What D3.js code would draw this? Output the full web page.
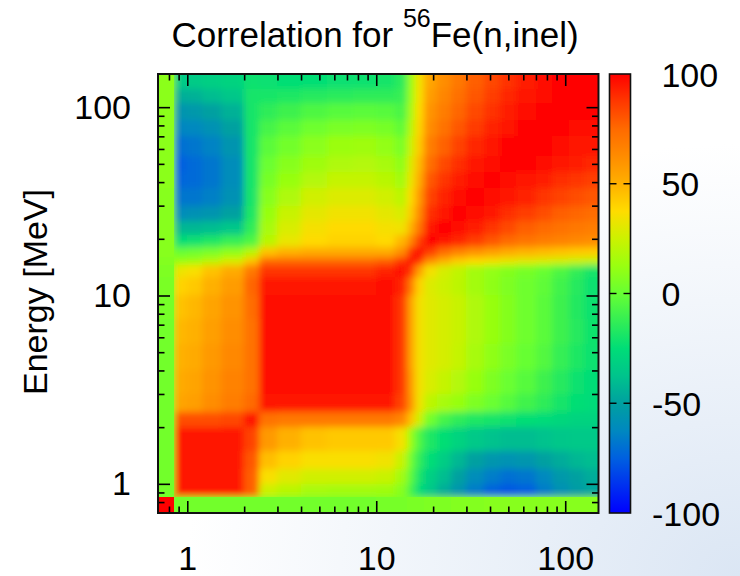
<!DOCTYPE html>
<html><head><meta charset="utf-8">
<script src="https://cdn.jsdelivr.net/npm/d3@7"></script>
<style>
html,body{margin:0;padding:0;background:#fff;}
svg{display:block;}
text{font-family:"Liberation Sans",Arial,Helvetica,sans-serif;fill:#000;}
</style></head><body>
<svg id="chart" width="740" height="576"></svg>
<script>
// ---- data -------------------------------------------------------------
const energyEdges = [0.7,0.85,1.0,1.2,1.5,2.0,2.4,3.0,4.0,5.5,7.5,10,12.5,14.5,16,18,21,25,30,37,45,55,70,85,105,125,150];
// correlation (%) ; row = y-energy bin (ascending), column = x-energy bin (ascending)
const corrRows = [
 [100,3,3,3,3,3,3,3,3,3,3,4,4,5,5,6,6,7,7,8,8,8,8,8,8,8],
 [3,95,95,95,95,78,25,20,16,15,15,14,8,-8,-25,-35,-45,-55,-66,-74,-77,-75,-66,-58,-52,-48],
 [3,95,95,95,95,78,36,30,26,26,26,24,15,-3,-20,-32,-40,-50,-60,-66,-70,-68,-62,-54,-50,-46],
 [3,95,95,95,95,80,46,40,36,36,36,34,24,2,-14,-25,-33,-42,-50,-55,-57,-55,-50,-46,-42,-40],
 [3,96,96,96,96,85,58,50,45,43,43,43,35,12,-6,-18,-24,-30,-35,-38,-40,-40,-38,-36,-35,-35],
 [3,82,82,82,84,97,72,70,70,70,70,70,65,45,25,3,-8,-14,-18,-20,-22,-24,-26,-28,-30,-30],
 [3,54,56,62,68,75,95,95,95,95,95,95,85,60,34,21,16,12,6,1,-4,-9,-14,-20,-24,-26],
 [3,52,54,60,66,72,97,97,97,97,97,97,88,58,35,28,23,19,12,6,1,-4,-10,-16,-22,-25],
 [3,50,52,58,64,72,98,98,98,98,98,98,88,55,35,30,27,23,16,10,5,0,-5,-12,-18,-22],
 [3,48,50,56,62,72,98,98,98,98,98,98,88,55,35,30,27,24,18,12,7,2,-3,-10,-16,-21],
 [4,45,48,54,60,74,97,97,97,97,97,97,88,55,35,30,27,24,18,12,7,2,-3,-10,-17,-22],
 [5,40,43,50,57,76,95,95,95,95,95,97,92,70,40,29,25,21,15,10,6,2,-2,-9,-16,-22],
 [6,33,36,45,52,70,88,88,88,88,88,92,97,88,56,35,27,22,15,11,7,4,0,-6,-13,-20],
 [7,12,14,20,28,45,75,75,75,75,75,78,88,100,90,62,50,42,38,35,32,30,28,26,24,22],
 [8,0,2,5,10,20,45,50,52,52,52,52,62,90,100,86,74,66,60,56,52,49,47,45,43,42],
 [8,-24,-22,-18,-12,-6,20,32,38,40,40,38,48,65,86,100,96,91,86,80,75,71,68,66,64,62],
 [8,-42,-42,-40,-36,-14,16,28,35,38,38,35,34,50,72,96,100,97,93,88,83,78,75,72,70,68],
 [8,-60,-58,-56,-50,-18,12,24,31,34,34,31,28,42,64,90,96,100,98,95,90,86,82,78,76,74],
 [8,-68,-68,-65,-58,-20,8,18,26,29,29,26,21,38,58,85,92,97,100,98,95,92,88,85,82,80],
 [9,-73,-72,-68,-60,-20,4,12,19,23,23,20,15,33,52,80,88,94,98,100,98,96,93,90,88,86],
 [9,-75,-72,-68,-60,-20,1,8,14,18,19,16,10,30,48,74,83,90,95,98,100,99,97,95,93,91],
 [9,-70,-68,-64,-56,-20,-3,3,9,13,14,11,5,25,43,68,77,85,91,95,99,100,99,97,96,95],
 [9,-63,-62,-58,-50,-20,-8,-3,2,5,6,4,-2,20,40,63,72,80,87,92,96,99,100,99,98,97],
 [9,-56,-54,-50,-44,-20,-14,-10,-6,-4,-3,-4,-7,16,38,60,68,76,83,89,94,97,99,100,99,99],
 [9,-45,-44,-40,-36,-20,-19,-18,-16,-15,-14,-14,-12,13,36,57,65,73,80,86,91,95,98,99,100,100],
 [9,-34,-34,-32,-30,-22,-23,-24,-24,-23,-22,-20,-15,12,35,54,62,70,78,84,89,93,97,99,100,100]
];
const axisMajorTicks = [1,10,100];
const axisMinorTicks = [0.8,0.9,2,3,4,5,6,7,8,9,20,30,40,50,60,70,80,90];
const colorbarTicks = [100,50,0,-50,-100];
const colorbarDashTicks = [50,0,-50];
const paletteValues = [-100,-87.5,-75,-62.5,-50,-37.5,-25,-12.5,0,12.5,25,37.5,50,62.5,75,87.5,100];
const paletteColors = ["#0000ff","#0030f0","#0060e0","#0088c0","#00a0a0","#00c48c","#00dd77","#33ee55","#66ff33","#99ff10","#ccf200","#ffdc00","#ffb000","#ff8c00","#ff6a00","#ff3800","#ff0000"];
const titleMain = "Correlation for ", titleSup = "56", titleRest = "Fe(n,inel)";
const yAxisTitle = "Energy [MeV]";

// ---- layout -----------------------------------------------------------
const W = 740, H = 576;
const P = {left:158, right:598.5, top:74, bottom:513};
const CB = {left:609.5, right:630.5};
const FONT = 34;

const svg = d3.select("#chart");
const defs = svg.append("defs");

// background
const bg = defs.append("radialGradient").attr("id","bg").attr("cx","100%").attr("cy","100%").attr("r","75%");
bg.append("stop").attr("offset","0").attr("stop-color","#dbe6f4");
bg.append("stop").attr("offset","1").attr("stop-color","#ffffff");
svg.append("rect").attr("width",W).attr("height",H).attr("fill","url(#bg)");

const x = d3.scaleLog().domain([0.7,150]).range([P.left,P.right]);
const y = d3.scaleLog().domain([0.7,150]).range([P.bottom,P.top]);
const color = d3.scaleLinear().domain(paletteValues).range(paletteColors).interpolate(d3.interpolateRgb).clamp(true);

// heatmap
defs.append("clipPath").attr("id","plotClip").append("rect")
  .attr("x",P.left).attr("y",P.top).attr("width",P.right-P.left).attr("height",P.bottom-P.top);
defs.append("filter").attr("id","soft").attr("filterUnits","userSpaceOnUse")
  .attr("x",P.left-40).attr("y",P.top-40).attr("width",P.right-P.left+80).attr("height",P.bottom-P.top+80)
  .append("feGaussianBlur").attr("stdDeviation",3.6);

const nb = energyEdges.length-1;
const cells = [];
corrRows.forEach((row,r)=>row.forEach((v,c)=>cells.push({r,c,v})));
const pad = 25;
const heat = svg.append("g").attr("clip-path","url(#plotClip)");
function drawCells(sel, extend){
  sel.attr("x",d=>x(energyEdges[d.c]) - (d.c===0?pad:0))
    .attr("width",d=>x(energyEdges[d.c+1])-x(energyEdges[d.c]) + (d.c===0?pad:0) + (d.c===nb-1?pad:extend))
    .attr("y",d=>y(energyEdges[d.r+1]) - (d.r===nb-1?pad:extend))
    .attr("height",d=>y(energyEdges[d.r])-y(energyEdges[d.r+1]) + (d.r===0?pad:0) + (d.r===nb-1?pad:extend))
    .attr("fill",d=>color(d.v))
    .attr("shape-rendering","crispEdges");
}
heat.append("g").attr("filter","url(#soft)")
  .selectAll("rect").data(cells).join("rect").call(drawCells,0.6);
// lowest-energy bin (first row / column) stays crisp, as in the source
heat.append("g")
  .selectAll("rect").data(cells.filter(d=>d.r===0||d.c===0)).join("rect").call(drawCells,0);

// axes (ticks inward, mirrored)
function styleAxis(g){
  g.select(".domain").remove();
  g.selectAll(".tick line").attr("stroke","#000").attr("stroke-width",1.6);
  g.attr("font-size",FONT).attr("font-family",null);
  g.selectAll("text").attr("fill","#000");
}
const fmt = d=>String(d);
svg.append("g").attr("transform",`translate(0,${P.bottom})`)
  .call(d3.axisBottom(x).tickValues(axisMajorTicks).tickSize(-12).tickPadding(33).tickFormat(fmt)).call(styleAxis);
svg.append("g").attr("transform",`translate(0,${P.bottom})`)
  .call(d3.axisBottom(x).tickValues(axisMinorTicks).tickSize(-6.5).tickFormat("")).call(styleAxis);
svg.append("g").attr("transform",`translate(0,${P.top})`)
  .call(d3.axisTop(x).tickValues(axisMajorTicks).tickSize(-12).tickFormat("")).call(styleAxis);
svg.append("g").attr("transform",`translate(0,${P.top})`)
  .call(d3.axisTop(x).tickValues(axisMinorTicks).tickSize(-6.5).tickFormat("")).call(styleAxis);
svg.append("g").attr("transform",`translate(${P.left},0)`)
  .call(d3.axisLeft(y).tickValues(axisMajorTicks).tickSize(-12).tickPadding(27).tickFormat(fmt)).call(styleAxis);
svg.append("g").attr("transform",`translate(${P.left},0)`)
  .call(d3.axisLeft(y).tickValues(axisMinorTicks).tickSize(-6.5).tickFormat("")).call(styleAxis);
svg.append("g").attr("transform",`translate(${P.right},0)`)
  .call(d3.axisRight(y).tickValues(axisMajorTicks).tickSize(-12).tickFormat("")).call(styleAxis);
svg.append("g").attr("transform",`translate(${P.right},0)`)
  .call(d3.axisRight(y).tickValues(axisMinorTicks).tickSize(-6.5).tickFormat("")).call(styleAxis);

// frame
svg.append("rect").attr("x",P.left).attr("y",P.top).attr("width",P.right-P.left).attr("height",P.bottom-P.top)
  .attr("fill","none").attr("stroke","#111").attr("stroke-width",2);

// colorbar
const cb = d3.scaleLinear().domain([-100,100]).range([P.bottom,P.top]);
const grad = defs.append("linearGradient").attr("id","cbGrad").attr("gradientUnits","userSpaceOnUse")
  .attr("x1",0).attr("x2",0).attr("y1",P.bottom).attr("y2",P.top);
grad.selectAll("stop").data(paletteValues).join("stop")
  .attr("offset",v=>(v+100)/200).attr("stop-color",v=>color(v));
svg.append("rect").attr("x",CB.left).attr("y",P.top).attr("width",CB.right-CB.left).attr("height",P.bottom-P.top)
  .attr("fill","url(#cbGrad)").attr("stroke","#111").attr("stroke-width",1.6);
const cbt = svg.append("g");
cbt.selectAll("line.l").data(colorbarDashTicks).join("line").attr("class","l")
  .attr("x1",CB.left).attr("x2",CB.left+7).attr("y1",cb).attr("y2",cb).attr("stroke","#000").attr("stroke-width",1.4);
cbt.selectAll("line.r").data(colorbarDashTicks).join("line").attr("class","r")
  .attr("x1",CB.right-7).attr("x2",CB.right).attr("y1",cb).attr("y2",cb).attr("stroke","#000").attr("stroke-width",1.4);
cbt.selectAll("text").data(colorbarTicks).join("text")
  .attr("x",652).attr("y",cb).attr("dy","0.37em").attr("font-size",FONT)
  .style("white-space","pre")
  .text(v=> v<0 ? "-"+Math.abs(v) : " "+v);

// title
const t = svg.append("text").attr("x",375).attr("y",47).attr("text-anchor","middle").attr("font-size",35);
t.append("tspan").text(titleMain);
t.append("tspan").attr("font-size",25).attr("dy",-20).text(titleSup);
t.append("tspan").attr("font-size",35).attr("dy",20).text(titleRest);

// y-axis title
svg.append("text").attr("transform","translate(47,292) rotate(-90)").attr("text-anchor","middle")
  .attr("font-size",FONT).text(yAxisTitle);
</script>
</body></html>
